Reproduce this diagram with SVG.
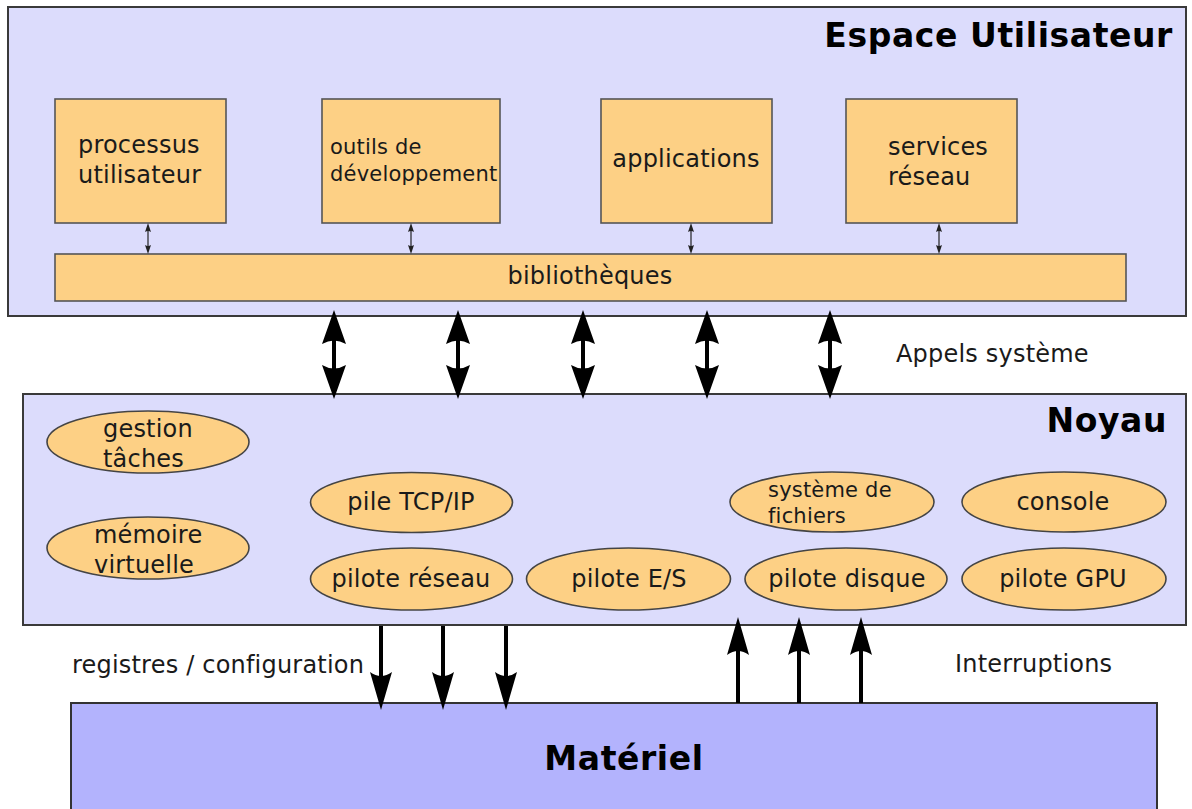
<svg xmlns="http://www.w3.org/2000/svg" width="1192" height="809" viewBox="0 0 1192 809">
  <style>
    text { font-family: "DejaVu Sans", "Liberation Sans", sans-serif; fill: #1a1a1a; }
    .t { font-size: 24px; letter-spacing: 0.2px; }
    .ts { font-size: 21px; letter-spacing: 0.2px; }
    .title { font-size: 33px; font-weight: bold; fill: #000; letter-spacing: 0.6px; }
    .layer { fill: #dcdcfc; stroke: #3a3a3a; stroke-width: 2; }
    .hw { fill: #b3b3fd; stroke: #333; stroke-width: 2; }
    .box { fill: #fdd085; stroke: #555; stroke-width: 1.6; }
    .oval { fill: #fdd085; stroke: #444; stroke-width: 1.6; }
    .big { stroke: #000; stroke-width: 4; fill: none; marker-start: url(#headBig); marker-end: url(#headBig); }
    .down { stroke: #000; stroke-width: 4; fill: none; marker-end: url(#headMid); }
    .small { stroke: #222; stroke-width: 1.2; fill: none; marker-start: url(#headSmall); marker-end: url(#headSmall); }
  </style>
  <defs>
    <marker id="headBig" markerUnits="userSpaceOnUse" orient="auto-start-reverse" refX="8" refY="0" markerWidth="36" markerHeight="28" viewBox="0 -14 36 28" overflow="visible">
      <path d="M0,-12 L34,0 L0,12 Q7,0 0,-12 Z" fill="#000"/>
    </marker>
    <marker id="headMid" markerUnits="userSpaceOnUse" orient="auto-start-reverse" refX="10" refY="0" markerWidth="40" markerHeight="26" viewBox="0 -13 40 26" overflow="visible">
      <path d="M0,-11 L38,0 L0,11 Q8,0 0,-11 Z" fill="#000"/>
    </marker>
    <marker id="headSmall" markerUnits="userSpaceOnUse" orient="auto-start-reverse" refX="2" refY="0" markerWidth="10" markerHeight="8" viewBox="0 -4 10 8" overflow="visible">
      <path d="M0,-3 L9,0 L0,3 Q2,0 0,-3 Z" fill="#222"/>
    </marker>
  </defs>

  <!-- user space layer -->
  <g id="espace-utilisateur">
    <rect class="layer" x="8" y="7" width="1178" height="309"/>
    <text class="title" x="1173" y="47" text-anchor="end">Espace Utilisateur</text>
  </g>
  <g id="processus-utilisateur">
    <rect class="box" x="55" y="99" width="171" height="124"/>
    <text class="t" x="78" y="153">processus</text>
    <text class="t" x="78" y="183">utilisateur</text>
  </g>
  <g id="outils-developpement">
    <rect class="box" x="322" y="99" width="178" height="124"/>
    <text class="ts" x="330" y="154">outils de</text>
    <text class="ts" x="330" y="181">développement</text>
  </g>
  <g id="applications">
    <rect class="box" x="601" y="99" width="171" height="124"/>
    <text class="t" x="686" y="167" text-anchor="middle">applications</text>
  </g>
  <g id="services-reseau">
    <rect class="box" x="846" y="99" width="171" height="124"/>
    <text class="t" x="888" y="155">services</text>
    <text class="t" x="888" y="185">réseau</text>
  </g>
  <g id="bibliotheques">
    <rect class="box" x="55" y="254" width="1071" height="47"/>
    <text class="t" x="590" y="284" text-anchor="middle">bibliothèques</text>
  </g>

  <!-- kernel layer -->
  <g id="noyau">
    <rect class="layer" x="23" y="394" width="1163" height="231"/>
    <text class="title" x="1167" y="432" text-anchor="end">Noyau</text>
  </g>
  <g id="gestion-taches">
    <ellipse class="oval" cx="148" cy="442" rx="101" ry="31"/>
    <text class="t" x="103" y="437">gestion</text>
    <text class="t" x="103" y="467">tâches</text>
  </g>
  <g id="memoire-virtuelle">
    <ellipse class="oval" cx="148" cy="548" rx="101" ry="31"/>
    <text class="t" x="94" y="543">mémoire</text>
    <text class="t" x="94" y="573">virtuelle</text>
  </g>
  <g id="pile-tcp-ip">
    <ellipse class="oval" cx="411.5" cy="502.5" rx="101" ry="30"/>
    <text class="t" x="411" y="510" text-anchor="middle">pile TCP/IP</text>
  </g>
  <g id="pilote-reseau">
    <ellipse class="oval" cx="411.5" cy="579" rx="101" ry="31"/>
    <text class="t" x="411" y="587" text-anchor="middle">pilote réseau</text>
  </g>
  <g id="systeme-fichiers">
    <ellipse class="oval" cx="832" cy="502" rx="102" ry="30"/>
    <text class="ts" x="768" y="497">système de</text>
    <text class="ts" x="768" y="523">fichiers</text>
  </g>
  <g id="console">
    <ellipse class="oval" cx="1064" cy="502" rx="102" ry="30"/>
    <text class="t" x="1063" y="510" text-anchor="middle">console</text>
  </g>
  <g id="pilote-es">
    <ellipse class="oval" cx="628.5" cy="579" rx="102" ry="31"/>
    <text class="t" x="629" y="587" text-anchor="middle">pilote E/S</text>
  </g>
  <g id="pilote-disque">
    <ellipse class="oval" cx="846" cy="579" rx="101" ry="31"/>
    <text class="t" x="847" y="587" text-anchor="middle">pilote disque</text>
  </g>
  <g id="pilote-gpu">
    <ellipse class="oval" cx="1064" cy="579" rx="102" ry="31"/>
    <text class="t" x="1063" y="587" text-anchor="middle">pilote GPU</text>
  </g>

  <!-- hardware layer -->
  <g id="materiel">
    <rect class="hw" x="71" y="703" width="1086" height="120"/>
    <text class="title" x="624" y="770" text-anchor="middle">Matériel</text>
  </g>

  <!-- connectors -->
  <g id="connecteurs">
    <line class="small" x1="148" y1="230" x2="148" y2="247"/>
    <line class="small" x1="411" y1="230" x2="411" y2="247"/>
    <line class="small" x1="691" y1="230" x2="691" y2="247"/>
    <line class="small" x1="939" y1="230" x2="939" y2="247"/>

    <line class="big" x1="334" y1="336" x2="334" y2="373"/>
    <line class="big" x1="458" y1="336" x2="458" y2="373"/>
    <line class="big" x1="583" y1="336" x2="583" y2="373"/>
    <line class="big" x1="707" y1="336" x2="707" y2="373"/>
    <line class="big" x1="830" y1="336" x2="830" y2="373"/>

    <line class="down" x1="381" y1="626" x2="381" y2="682"/>
    <line class="down" x1="443" y1="626" x2="443" y2="682"/>
    <line class="down" x1="506" y1="626" x2="506" y2="682"/>

    <line class="down" x1="738" y1="703" x2="738" y2="645"/>
    <line class="down" x1="799" y1="703" x2="799" y2="645"/>
    <line class="down" x1="861" y1="703" x2="861" y2="645"/>

    <text class="t" x="896" y="362">Appels système</text>
    <text class="t" x="72" y="673">registres / configuration</text>
    <text class="t" x="955" y="672">Interruptions</text>
  </g>
</svg>
